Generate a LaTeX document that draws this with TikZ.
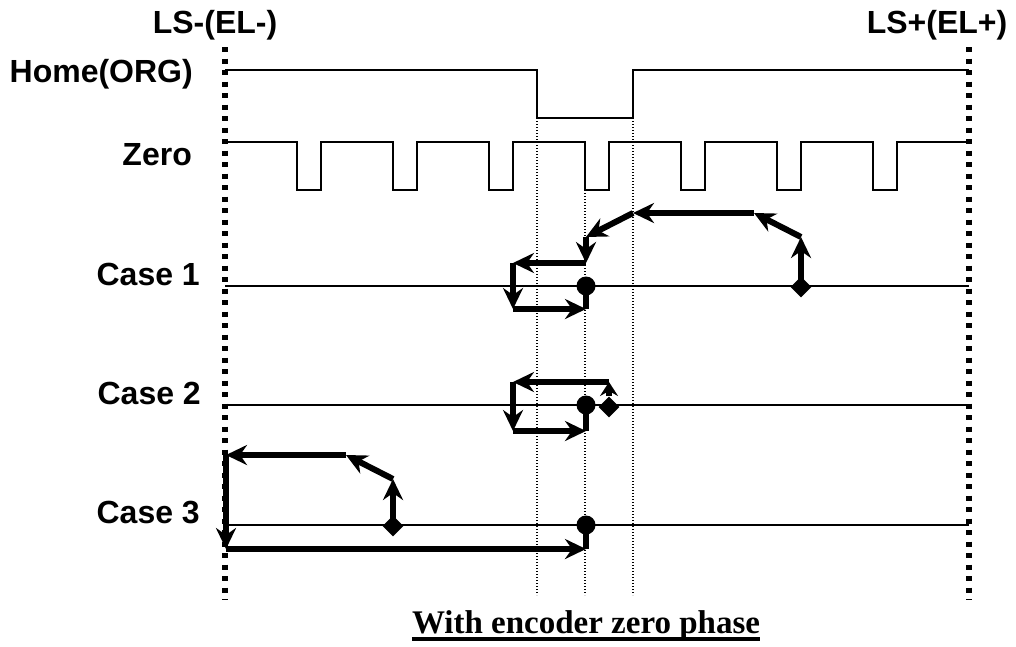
\documentclass[tikz,border=0pt]{standalone}
\usepackage{fontspec}
\setmainfont{Liberation Serif}
\newfontfamily\labelfont{Liberation Sans}
\usetikzlibrary{arrows.meta,positioning,calc,shapes.geometric}

\begin{document}
\begin{tikzpicture}[x=1pt, y=-1pt,
    % --- Styles ---
    lbl/.style={font=\labelfont\bfseries\fontsize{32}{38}\selectfont, inner sep=0pt},
    caption/.style={font=\bfseries\fontsize{33}{38}\selectfont, inner sep=0pt},
    sig/.style={line width=2pt},
    limit/.style={line width=5.5pt, dash pattern=on 5pt off 6.5pt},
    guide/.style={line width=1.4pt, dash pattern=on 1.4pt off 1.6pt},
    move/.style={line width=6pt, -{Stealth[length=21pt, width=20pt, inset=7pt]}},
    shortmove/.style={line width=6pt, -{Stealth[length=14pt, width=18pt, inset=5pt]}},
    link/.style={line width=6pt},
    startpt/.style={diamond, fill=black, inner sep=0pt, minimum size=21pt},
    originpt/.style={circle, fill=black, inner sep=0pt, minimum size=19pt},
]
\useasboundingbox (0,0) rectangle (1016,646);

% === Limit switches ===
\node[lbl, anchor=base] (lsm) at (215,33) {LS-(EL-)};
\node[lbl, anchor=base] (lsp) at (937,33) {LS+(EL+)};
\coordinate (lsmtop) at (225,47);
\coordinate (lsmbot) at (225,600);
\coordinate (lsptop) at (969,47);
\coordinate (lspbot) at (969,600);

% === Signal labels ===
\node[lbl, anchor=base east] (home) at (193,82) {Home(ORG)};
\node[lbl, anchor=base east] (zero) at (192,165) {Zero};
\node[lbl, anchor=base east] (case1) at (200,285) {Case 1};
\node[lbl, anchor=base east] (case2) at (201,404) {Case 2};
\node[lbl, anchor=base east] (case3) at (200,523) {Case 3};

% === Guide lines ===
\draw[guide] (537,118) -- (537,595);
\draw[guide] (633,118) -- (633,595);
\draw[guide] (585,190) -- (585,595);

% === Home and Zero signals ===
\draw[sig] (225,70) -- (537,70) -- (537,118) -- (633,118) -- (633,70) -- (969,70);
\draw[sig] (225,142) -- (297,142) -- (297,190) -- (321,190) -- (321,142)
    -- (393,142) -- (393,190) -- (417,190) -- (417,142)
    -- (489,142) -- (489,190) -- (513,190) -- (513,142)
    -- (585,142) -- (585,190) -- (609,190) -- (609,142)
    -- (681,142) -- (681,190) -- (705,190) -- (705,142)
    -- (777,142) -- (777,190) -- (801,190) -- (801,142)
    -- (873,142) -- (873,190) -- (897,190) -- (897,142) -- (969,142);

% === Case base lines ===
\draw[sig] (225,286) -- (969,286);
\draw[sig] (225,405) -- (969,405);
\draw[sig] (225,525) -- (969,525);

\draw[limit] (lsmtop) -- (lsmbot);
\draw[limit] (lsptop) -- (lspbot);

% === Case 1 ===
\node[startpt] (start1) at (801,287) {};
\coordinate (a1) at (801,237);
\coordinate (b1) at (754,213);
\coordinate (c1) at (633,213);
\coordinate (d1) at (586,237);
\coordinate (e1) at (586,263);
\coordinate (f1) at (513,263);
\coordinate (g1) at (513,309);
\coordinate (h1) at (586,309);
\draw[move] (start1.center) -- (a1);
\draw[move] (a1) -- (b1);
\draw[move] (b1) -- (c1);
\draw[move] (c1) -- (d1);
\draw[move] (d1) -- (e1);
\draw[move] (e1) -- (f1);
\draw[move] (f1) -- (g1);
\draw[move] (g1) -- (h1);
\node[originpt] (org1) at (586,286) {};
\draw[link] (h1) -- (org1.center);

% === Case 2 ===
\node[startpt] (start2) at (609,407) {};
\coordinate (a2) at (609,382);
\coordinate (b2) at (513,382);
\coordinate (c2) at (513,431);
\coordinate (d2) at (586,431);
\draw[shortmove] (start2.north) -- (a2);
\draw[move] (a2) -- (b2);
\draw[move] (b2) -- (c2);
\draw[move] (c2) -- (d2);
\node[originpt] (org2) at (586,405) {};
\draw[link] (d2) -- (org2.center);

% === Case 3 ===
\node[startpt] (start3) at (393,526) {};
\coordinate (a3) at (393,479);
\coordinate (b3) at (346,455);
\coordinate (c3) at (226,455);
\coordinate (d3) at (226,549);
\coordinate (e3) at (586,549);
\draw[move] (start3.center) -- (a3);
\draw[move] (a3) -- (b3);
\draw[move] (b3) -- (c3);
\draw[move] (c3) -- (d3);
\draw[move] (d3) -- (e3);
\node[originpt] (org3) at (586,525) {};
\draw[link] (e3) -- (org3.center);

% === Caption ===
\node[caption, anchor=base] (cap) at (586,633) {With encoder zero phase};
\draw[line width=4pt] ($(cap.base west)+(0,6)$) -- ($(cap.base east)+(0,6)$);

\end{tikzpicture}
\end{document}
